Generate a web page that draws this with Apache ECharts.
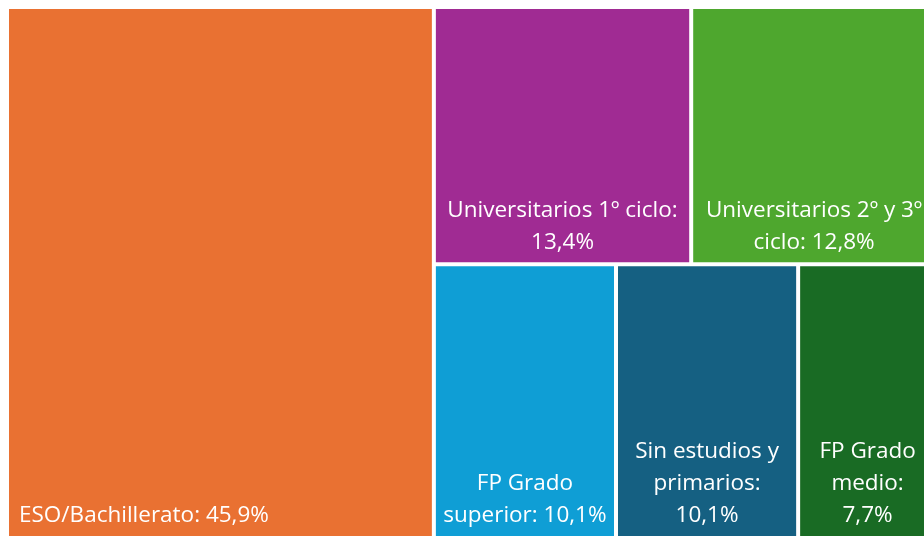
<!DOCTYPE html>
<html><head><meta charset="utf-8">
<script src="https://cdn.jsdelivr.net/npm/echarts@6/dist/echarts.min.js"></script>
<style>html,body{margin:0;padding:0;background:#fff}#c{width:924px;height:536px}</style>
</head><body><div id="c"></div>
<script>
const categories = ['ESO/Bachillerato', 'Universitarios 1º ciclo', 'Universitarios 2º y 3º ciclo', 'FP Grado superior', 'Sin estudios y primarios', 'FP Grado medio'];
const values = [45.9, 13.4, 12.8, 10.1, 10.1, 7.7];
const labelTexts = ['ESO/Bachillerato: 45,9%', 'Universitarios 1º ciclo:\n13,4%', 'Universitarios 2º y 3º\nciclo: 12,8%', 'FP Grado\nsuperior: 10,1%', 'Sin estudios y\nprimarios:\n10,1%', 'FP Grado\nmedio:\n7,7%'];
const colors = ['#E97132', '#A02B93', '#4EA72E', '#0F9ED5', '#156082', '#196B24'];

const data = categories.map((c, i) => ({
  name: c,
  value: values[i],
  itemStyle: { color: colors[i] },
  label: {
    formatter: labelTexts[i],
    position: i === 0 ? 'insideBottomLeft' : 'insideBottom',
    align: i === 0 ? 'left' : 'center',
    padding: i === 0 ? [0, 4, 0, 6] : [0, 4, 0, 4]
  }
}));

const chart = echarts.init(document.getElementById('c'), null, { renderer: 'canvas' });
chart.setOption({
  animation: false,
  series: [{
    type: 'treemap',
    left: 9, top: 9, width: 926, height: 527,
    roam: false, nodeClick: false,
    breadcrumb: { show: false },
    sort: false,
    squareRatio: 1,
    itemStyle: { borderWidth: 0, gapWidth: 4, borderColor: '#fff' },
    levels: [{ itemStyle: { borderWidth: 0, gapWidth: 4, borderColor: '#fff' } }, { itemStyle: { borderWidth: 0, gapWidth: 0 } }],
    label: {
      show: true,
      color: '#ffffff',
      fontFamily: 'Open Sans',
      fontSize: 22.5,
      lineHeight: 32,
      distance: 4,
      padding: [0, 4, 0, 4]
    },
    upperLabel: { show: false },
    data: data
  }]
});
</script></body></html>
